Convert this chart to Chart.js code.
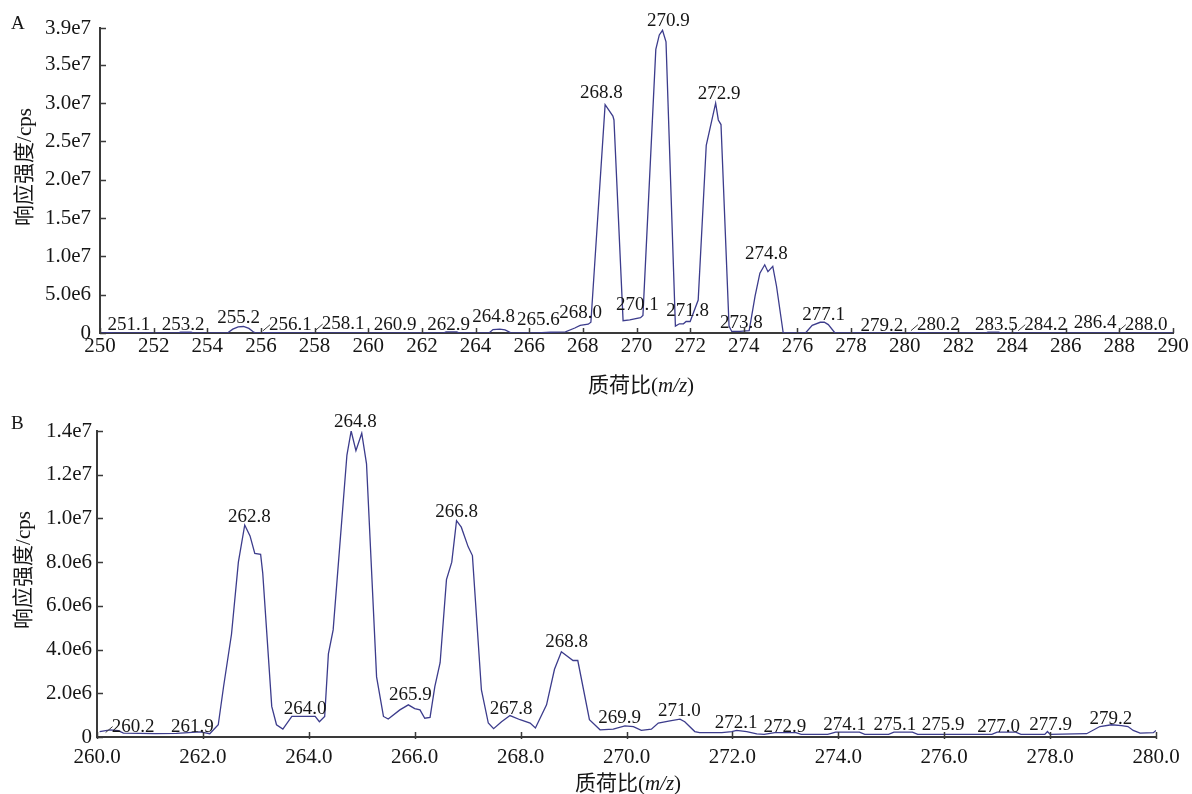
<!doctype html>
<html lang="zh">
<head>
<meta charset="utf-8">
<title>质谱图</title>
<style>
  body { margin: 0; background: #ffffff; }
  .panel { position: absolute; left: 0; width: 1192px; }
  #panelA { top: 0; height: 400px; }
  #panelB { top: 400px; height: 394px; }
</style>
</head>
<body>
<div class="panel" id="panelA"><canvas id="chartA" width="1192" height="400"></canvas></div>
<div class="panel" id="panelB"><canvas id="chartB" width="1192" height="394"></canvas></div>

<script src="https://cdn.jsdelivr.net/npm/chart.js@4.4.1/dist/chart.umd.min.js"></script>
<script>
// ---------- panel A : spectrum ----------
const mzA = [250.0, 250.4, 250.6, 252.9, 253.0, 253.4, 253.5, 254.75, 254.95, 255.15, 255.35, 255.55, 255.7, 255.8,
  256.1, 256.6, 256.8, 262.8, 262.9, 263.3, 263.4, 264.5, 264.65, 264.9, 265.1, 265.3, 265.5, 266.3, 266.8, 267.35,
  267.7, 267.9, 268.2, 268.3, 268.83, 269.12, 269.16, 269.5, 269.75, 270.15, 270.24, 270.72, 270.85, 270.97, 271.1,
  271.45, 271.6, 271.75, 271.85, 272.0, 272.3, 272.6, 272.95, 273.05, 273.15, 273.45, 273.55, 273.85, 274.2, 274.42,
  274.6, 274.78, 274.9, 275.08, 275.22, 275.47, 276.3, 276.55, 276.85, 277.0, 277.15, 277.4, 280.3, 280.4, 280.8,
  280.9, 283.0, 283.1, 283.5, 283.6, 290.0];
const intensityA = [0.05e6, 0.05e6, 0, 0, 0.1e6, 0.1e6, 0, 0, 0.5e6, 0.8e6, 0.85e6, 0.6e6, 0.2e6, 0,
  0.05e6, 0.05e6, 0, 0, 0.15e6, 0.15e6, 0, 0, 0.45e6, 0.5e6, 0.4e6, 0.05e6, 0, 0, 0.1e6, 0.15e6,
  0.65e6, 1.0e6, 1.15e6, 1.4e6, 29.8e6, 28.3e6, 27.8e6, 1.6e6, 1.7e6, 2.0e6, 2.3e6, 37.0e6, 38.9e6, 39.5e6, 38.0e6,
  0.9e6, 1.2e6, 1.2e6, 1.5e6, 1.5e6, 4.3e6, 24.5e6, 30.0e6, 27.8e6, 27.2e6, 0.9e6, 0.2e6, 0.2e6, 0.3e6, 4.8e6,
  7.8e6, 8.9e6, 8.0e6, 8.7e6, 6.1e6, 0, 0, 1.0e6, 1.4e6, 1.4e6, 1.1e6, 0, 0, 0.05e6, 0.05e6,
  0, 0, 0.12e6, 0.12e6, 0, 0];

// peak annotations A: text, centre of the text (m/z), baseline of the text (cps)
const peakTextA = ['251.1', '253.2', '255.2', '256.1', '258.1', '260.9', '262.9', '264.8', '265.6', '268.0', '268.8',
  '270.1', '270.9', '271.8', '272.9', '273.8', '274.8', '277.1', '279.2', '280.2', '283.5', '284.2', '286.4', '288.0'];
const labelMzA = [251.08, 253.1, 255.17, 257.1, 259.06, 261.0, 263.0, 264.67, 266.34, 267.92, 268.69,
  270.03, 271.19, 271.91, 273.08, 273.91, 274.84, 276.98, 279.15, 281.25, 283.42, 285.25, 287.1, 289.0];
const labelIntA = [0.43e6, 0.43e6, 1.3e6, 0.43e6, 0.5e6, 0.43e6, 0.43e6, 1.4e6, 1.08e6, 1.96e6, 30.7e6,
  3.04e6, 40.1e6, 2.26e6, 30.55e6, 0.65e6, 9.66e6, 1.74e6, 0.21e6, 0.43e6, 0.43e6, 0.43e6, 0.65e6, 0.43e6];

const xTicksA = [250, 252, 254, 256, 258, 260, 262, 264, 266, 268, 270, 272, 274, 276, 278, 280, 282, 284, 286, 288, 290];
const xTickLabelsA = ['250', '252', '254', '256', '258', '260', '262', '264', '266', '268', '270', '272', '274', '276',
  '278', '280', '282', '284', '286', '288', '290'];
const yTicksA = [0, 5e6, 1e7, 1.5e7, 2e7, 2.5e7, 3e7, 3.5e7, 3.98e7];
const yTickLabelsA = ['0', '5.0e6', '1.0e7', '1.5e7', '2.0e7', '2.5e7', '3.0e7', '3.5e7', '3.9e7'];

// ---------- panel B : spectrum ----------
const mzB = [260.05, 260.25, 260.4, 260.5, 261.1, 261.5, 261.95, 262.13, 262.29, 262.39, 262.54, 262.67, 262.79,
  262.89, 262.98, 263.09, 263.13, 263.3, 263.39, 263.51, 263.68, 263.99, 264.12, 264.2, 264.3, 264.37, 264.46,
  264.72, 264.8, 264.89, 265.0, 265.09, 265.28, 265.41, 265.5, 265.72, 265.88, 266.0, 266.1, 266.19, 266.29,
  266.38, 266.48, 266.6, 266.7, 266.79, 266.88, 267.01, 267.09, 267.26, 267.39, 267.49, 267.64, 267.8, 267.99,
  268.18, 268.28, 268.49, 268.64, 268.77, 268.99, 269.08, 269.3, 269.5, 269.75, 269.97, 270.13, 270.28, 270.47,
  270.6, 270.82, 271.01, 271.1, 271.29, 271.38, 271.8, 271.99, 272.08, 272.27, 272.46, 272.6, 272.8, 273.2, 273.3,
  273.8, 273.95, 274.4, 274.5, 274.95, 275.05, 275.4, 275.5, 276.9, 277.0, 277.35, 277.45, 277.9, 277.95, 278.0,
  278.69, 278.94, 279.16, 279.35, 279.47, 279.57, 279.7, 279.95, 280.0];
const intensityB = [0.25e6, 0.33e6, 0.29e6, 0.18e6, 0.15e6, 0.17e6, 0.23e6, 0.15e6, 0.56e6, 2.3e6, 4.7e6, 8.0e6, 9.7e6,
  9.2e6, 8.4e6, 8.36e6, 7.5e6, 1.4e6, 0.56e6, 0.36e6, 0.94e6, 0.94e6, 0.94e6, 0.7e6, 0.94e6, 3.8e6, 4.9e6,
  12.9e6, 14.0e6, 13.1e6, 13.9e6, 12.5e6, 2.75e6, 0.94e6, 0.82e6, 1.24e6, 1.47e6, 1.3e6, 1.24e6, 0.86e6, 0.9e6,
  2.3e6, 3.4e6, 7.2e6, 8.0e6, 9.9e6, 9.6e6, 8.7e6, 8.3e6, 2.15e6, 0.64e6, 0.38e6, 0.7e6, 0.98e6, 0.79e6,
  0.64e6, 0.41e6, 1.47e6, 3.1e6, 3.9e6, 3.5e6, 3.5e6, 0.79e6, 0.33e6, 0.36e6, 0.51e6, 0.47e6, 0.3e6, 0.36e6,
  0.64e6, 0.74e6, 0.82e6, 0.7e6, 0.25e6, 0.2e6, 0.2e6, 0.25e6, 0.3e6, 0.25e6, 0.14e6, 0.12e6, 0.2e6, 0.2e6, 0.12e6,
  0.12e6, 0.22e6, 0.22e6, 0.12e6, 0.12e6, 0.22e6, 0.22e6, 0.12e6, 0.12e6, 0.22e6, 0.22e6, 0.12e6, 0.12e6, 0.25e6, 0.12e6,
  0.15e6, 0.48e6, 0.56e6, 0.52e6, 0.48e6, 0.3e6, 0.18e6, 0.2e6, 0.3e6];

const peakTextB = ['260.2', '261.9', '262.8', '264.0', '264.8', '265.9', '266.8', '267.8', '268.8', '269.9', '271.0',
  '272.1', '272.9', '274.1', '275.1', '275.9', '277.0', '277.9', '279.2'];
const labelMzB = [260.68, 261.8, 262.88, 263.93, 264.88, 265.92, 266.79, 267.82, 268.87, 269.87, 271.0,
  272.07, 272.99, 274.12, 275.07, 275.98, 277.03, 278.01, 279.15];
const labelIntB = [0.25e6, 0.21e6, 9.85e6, 1.06e6, 14.2e6, 1.7e6, 10.06e6, 1.05e6, 4.12e6, 0.64e6, 0.97e6,
  0.41e6, 0.25e6, 0.33e6, 0.33e6, 0.33e6, 0.25e6, 0.33e6, 0.6e6];

const xTicksB = [260, 262, 264, 266, 268, 270, 272, 274, 276, 278, 280];
const xTickLabelsB = ['260.0', '262.0', '264.0', '266.0', '268.0', '270.0', '272.0', '274.0', '276.0', '278.0', '280.0'];
const yTicksB = [0, 2e6, 4e6, 6e6, 8e6, 1e7, 1.2e7, 1.4e7];
const yTickLabelsB = ['0', '2.0e6', '4.0e6', '6.0e6', '8.0e6', '1.0e7', '1.2e7', '1.4e7'];

const yTitle = '响应强度/cps';

// ---------- drawing ----------
const SERIF = '"Liberation Serif", "Noto Sans CJK SC", serif';
const LINE_COLOR = '#3c3c8c';
const AXIS_COLOR = '#3a3a3a';
const TEXT_COLOR = '#161616';

Chart.defaults.font.family = SERIF;
Chart.defaults.font.size = 21;
Chart.defaults.color = TEXT_COLOR;

// draws inward ticks, peak labels, axis titles and the panel letter
const decorations = {
  id: 'decorations',
  afterDraw(chart, args, o) {
    const { ctx, chartArea } = chart;
    const xs = chart.scales.x, ys = chart.scales.y;
    ctx.save();

    ctx.strokeStyle = AXIS_COLOR;
    ctx.lineWidth = 1.5;
    ctx.beginPath();
    xs.ticks.forEach((t, i) => {
      const px = Math.round(xs.getPixelForTick(i)) + 0.5;
      ctx.moveTo(px, chartArea.bottom + o.tickDown);
      ctx.lineTo(px, chartArea.bottom - o.tickUp);
    });
    ys.ticks.forEach((t, i) => {
      const py = Math.round(ys.getPixelForTick(i)) + 0.5;
      ctx.moveTo(chartArea.left, py);
      ctx.lineTo(chartArea.left + 6, py);
    });
    ctx.stroke();

    // peak labels
    ctx.font = '19px ' + SERIF;
    ctx.fillStyle = TEXT_COLOR;
    ctx.textAlign = 'center';
    ctx.textBaseline = 'alphabetic';
    ctx.lineWidth = 1;
    o.texts.forEach((txt, i) => {
      const cx = xs.getPixelForValue(o.mz[i]);
      const by = ys.getPixelForValue(o.heights[i]);
      ctx.fillText(txt, cx, by);
      // short leader when the label sits away from its peak
      const peakPx = xs.getPixelForValue(parseFloat(txt));
      const half = ctx.measureText(txt).width / 2;
      if (cx - half - peakPx > 3) {
        ctx.beginPath();
        ctx.moveTo(cx - half + 1, by - 5);
        ctx.lineTo(cx - half - 6, by + 1);
        ctx.stroke();
      }
    });

    // y axis title
    ctx.font = '21px ' + SERIF;
    ctx.save();
    ctx.translate(o.yTitleX, o.yTitleY);
    ctx.rotate(-Math.PI / 2);
    ctx.textAlign = 'center';
    ctx.textBaseline = 'middle';
    ctx.fillText(yTitle, 0, 0);
    ctx.restore();

    // x axis title with italic m/z
    const parts = [['质荷比(', '21px ' + SERIF], ['m/z', 'italic 21px ' + SERIF], [')', '21px ' + SERIF]];
    let total = 0;
    parts.forEach(p => { ctx.font = p[1]; total += ctx.measureText(p[0]).width; });
    let x = o.xTitleX - total / 2;
    ctx.textAlign = 'left';
    ctx.textBaseline = 'middle';
    parts.forEach(p => { ctx.font = p[1]; ctx.fillText(p[0], x, o.xTitleY); x += ctx.measureText(p[0]).width; });

    // panel letter
    ctx.font = '19px ' + SERIF;
    ctx.fillText(o.letter, 11, o.letterY);
    ctx.restore();
  }
};

function makeChart(id, p) {
  const points = p.mz.map((m, i) => ({ x: m, y: p.intensity[i] }));
  return new Chart(document.getElementById(id), {
    type: 'line',
    data: { datasets: [{ data: points, borderColor: LINE_COLOR, borderWidth: 1.3, pointRadius: 0, tension: 0, fill: false }] },
    options: {
      responsive: false,
      animation: false,
      layout: { padding: p.padding },
      plugins: {
        legend: { display: false },
        tooltip: { enabled: false },
        decorations: p.deco
      },
      scales: {
        x: {
          type: 'linear', min: p.xTicks[0], max: p.xTicks[p.xTicks.length - 1],
          grid: { display: false, drawTicks: false },
          border: { display: true, color: AXIS_COLOR, width: 2 },
          afterBuildTicks: s => { s.ticks = p.xTicks.map(v => ({ value: v })); },
          afterFit: s => { s.height = p.xHeight; },
          ticks: { autoSkip: false, maxRotation: 0, padding: p.xPad, callback: (v, i) => p.xLabels[i] }
        },
        y: {
          type: 'linear', min: 0, max: p.yTicks[p.yTicks.length - 1],
          grid: { display: false, drawTicks: false },
          border: { display: true, color: AXIS_COLOR, width: 2 },
          afterBuildTicks: s => { s.ticks = p.yTicks.map(v => ({ value: v })); },
          afterFit: s => { s.width = p.yWidth; },
          ticks: { autoSkip: false, padding: p.yPad, callback: (v, i) => p.yLabels[i] }
        }
      }
    },
    plugins: [decorations]
  });
}

makeChart('chartA', {
  mz: mzA, intensity: intensityA,
  xTicks: xTicksA, xLabels: xTickLabelsA, yTicks: yTicksA, yLabels: yTickLabelsA,
  padding: { left: 0, right: 19, top: 28, bottom: 0 }, xHeight: 67, yWidth: 100, xPad: 1, yPad: 9,
  deco: { texts: peakTextA, mz: labelMzA, heights: labelIntA, tickUp: 5, tickDown: 0,
    yTitleX: 25, yTitleY: 167, xTitleX: 641, xTitleY: 386, letter: 'A', letterY: 24 }
});

makeChart('chartB', {
  mz: mzB, intensity: intensityB,
  xTicks: xTicksB, xLabels: xTickLabelsB, yTicks: yTicksB, yLabels: yTickLabelsB,
  padding: { left: 0, right: 36, top: 31, bottom: 0 }, xHeight: 57, yWidth: 97, xPad: 8, yPad: 5,
  deco: { texts: peakTextB, mz: labelMzB, heights: labelIntB, tickUp: 5, tickDown: 2,
    yTitleX: 24, yTitleY: 170, xTitleX: 628, xTitleY: 384, letter: 'B', letterY: 24 }
});
</script>
</body>
</html>
